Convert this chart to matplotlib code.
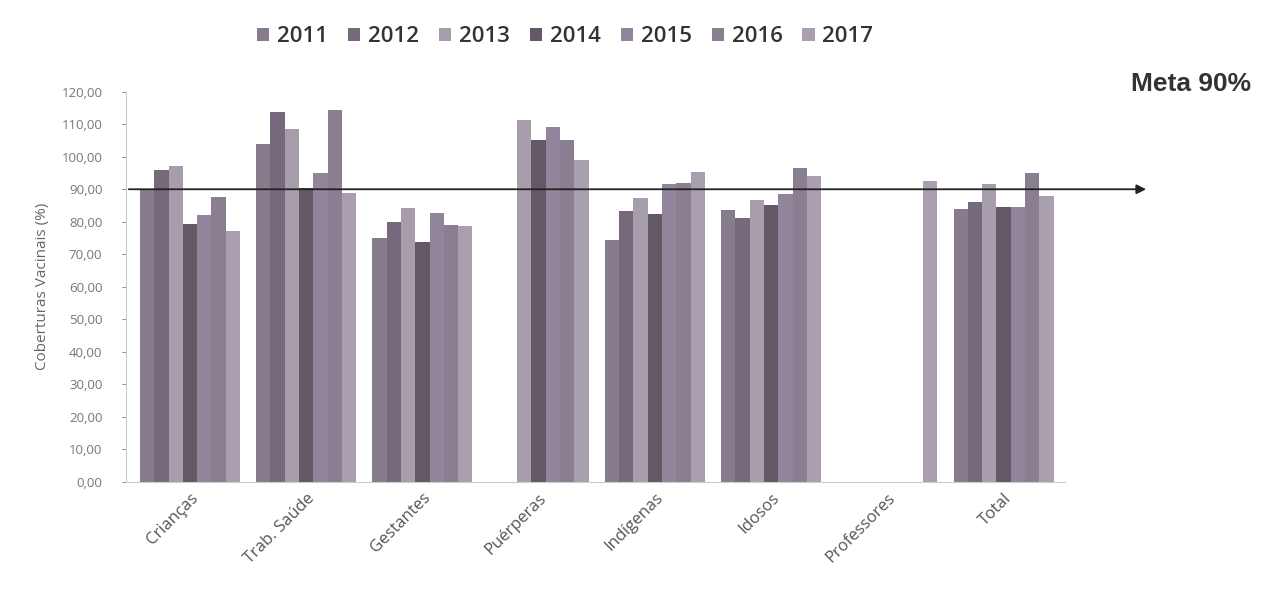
import numpy as np
import matplotlib
matplotlib.use("Agg")
import matplotlib.pyplot as plt
from matplotlib.ticker import FuncFormatter

plt.rcParams['font.family'] = ['Open Sans', 'DejaVu Sans']

# dados
grupos = ['Crianças', 'Trab. Saúde', 'Gestantes', 'Puérperas', 'Indígenas',
          'Idosos', 'Professores', 'Total']
anos = ['2011', '2012', '2013', '2014', '2015', '2016', '2017']

# coberturas por ano (NaN = grupo não vacinado naquele ano)
c2011 = [90.0, 104.0, 75.1, np.nan, 74.5, 83.7, np.nan, 84.0]
c2012 = [95.8, 113.9, 79.8, np.nan, 83.4, 81.2, np.nan, 86.0]
c2013 = [97.1, 108.7, 84.3, 111.3, 87.4, 86.7, np.nan, 91.5]
c2014 = [79.4, 90.3, 73.7, 105.2, 82.4, 85.2, np.nan, 84.5]
c2015 = [82.0, 95.0, 82.8, 109.3, 91.7, 88.6, np.nan, 84.5]
c2016 = [87.6, 114.4, 78.9, 105.2, 92.0, 96.4, np.nan, 94.9]
c2017 = [77.2, 88.7, 78.6, 99.1, 95.3, 94.0, 92.5, 88.0]
meta = 90

series = [c2011, c2012, c2013, c2014, c2015, c2016, c2017]
cores = ['#877c8c', '#75697b', '#a89eab', '#635866', '#90859a', '#8a7e91', '#a99fae']

fig = plt.figure(figsize=(12.64, 6.12), dpi=100)
ax = fig.add_axes([0.0997, 0.213, 0.743, 0.637])

x = np.arange(len(grupos))
w = 0.123
for i, (vals, ano) in enumerate(zip(series, anos)):
    ax.bar(x + (i - 3) * w, vals, width=w, color=cores[i], label=ano,
           edgecolor='none')

ax.set_xlim(-0.55, 7.53)
ax.set_ylim(0, 120)
ax.set_yticks(np.arange(0, 121, 10))
ax.yaxis.set_major_formatter(FuncFormatter(lambda v, p: f'{v:.2f}'.replace('.', ',')))
ax.tick_params(axis='y', labelsize=9.5, colors='#777777', length=3, width=0.6, pad=14)
ax.tick_params(axis='x', length=0, pad=6)
ax.set_xticks(x)
ax.set_xticklabels(grupos, rotation=45, ha='right', rotation_mode='anchor',
                   fontsize=12, color='#555555')
ax.set_ylabel('Coberturas Vacinais (%)', fontsize=11, color='#666666', labelpad=8)

for s in ['top', 'right']:
    ax.spines[s].set_visible(False)
ax.spines['left'].set_color('#cccccc')
ax.spines['bottom'].set_color('#cccccc')

# linha da meta com seta
ax.annotate('', xy=(8.25, meta), xytext=(-0.55, meta),
            arrowprops=dict(arrowstyle='-|>', color='#222222', lw=1.3,
                            mutation_scale=14),
            annotation_clip=False)
fig.text(0.99, 0.862, 'Meta 90%', fontsize=19, fontweight='bold', ha='right',
         va='center', color='#333333', family=['Liberation Sans', 'DejaVu Sans'])

fig.legend(loc='center', bbox_to_anchor=(0.447, 0.94), ncol=7, frameon=False,
           handlelength=0.55, handleheight=0.55, handletextpad=0.35,
           columnspacing=0.9, labelcolor='#333333',
           prop={'weight': 'semibold', 'size': 16})

plt.savefig('out.png', dpi=100)
